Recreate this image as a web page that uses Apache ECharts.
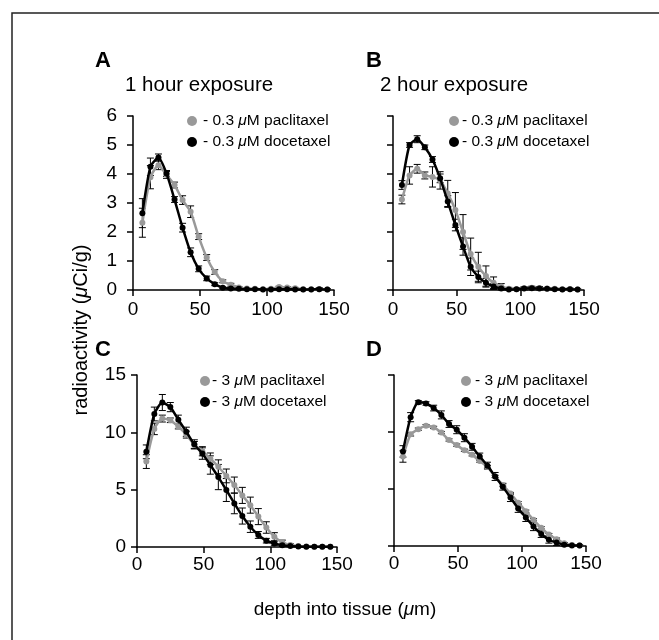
<!DOCTYPE html>
<html>
<head>
<meta charset="utf-8">
<script src="https://cdn.jsdelivr.net/npm/echarts@6/dist/echarts.min.js"></script>
<style>
  html, body { margin: 0; padding: 0; background: #fff; }
  #chart { width: 659px; height: 640px; }
</style>
</head>
<body>
<div id="chart"></div>
<script>
// depth into tissue (um), same sampling for every panel
var depth = [7, 13, 19, 25, 31, 37, 43, 49, 55, 61, 67, 73, 79, 85, 91, 97, 103, 109, 115, 121, 127, 133, 139, 145];

// A: 1 hour, 0.3 uM
var pac1h03 = [2.32, 3.89, 4.3, 3.97, 3.62, 3.1, 2.7, 1.84, 1.12, 0.62, 0.3, 0.18, 0.09, 0.05, 0.04, 0.03, 0.04, 0.1, 0.09, 0.06, 0.03, 0.03, 0.03, 0.02];
var pac1h03Err = [0.5, 0.4, 0.15, 0.12, 0.1, 0.15, 0.2, 0.1, 0.1, 0.08, 0.05, 0.05, 0.03, 0.02, 0.02, 0.02, 0.02, 0.03, 0.03, 0.03, 0.02, 0.02, 0.02, 0.02];
var doc1h03 = [2.65, 4.25, 4.57, 4.02, 3.12, 2.15, 1.3, 0.73, 0.4, 0.2, 0.08, 0.05, 0.04, 0.03, 0.03, 0.02, 0.02, 0.03, 0.03, 0.02, 0.02, 0.02, 0.03, 0.02];
var doc1h03Err = [0.5, 0.3, 0.12, 0.1, 0.1, 0.15, 0.15, 0.1, 0.08, 0.05, 0.03, 0.03, 0.03, 0.02, 0.02, 0.02, 0.02, 0.03, 0.05, 0.03, 0.02, 0.02, 0.05, 0.02];

// B: 2 hour, 0.3 uM
var pac2h03 = [3.12, 3.95, 4.18, 3.95, 3.9, 3.78, 3.33, 2.76, 2.0, 1.24, 0.8, 0.48, 0.25, 0.12, 0.04, 0.03, 0.06, 0.08, 0.07, 0.05, 0.04, 0.03, 0.03, 0.02];
var pac2h03Err = [0.15, 0.3, 0.15, 0.12, 0.35, 0.3, 0.45, 0.6, 0.6, 0.55, 0.5, 0.35, 0.2, 0.1, 0.05, 0.03, 0.05, 0.05, 0.05, 0.03, 0.03, 0.03, 0.03, 0.02];
var doc2h03 = [3.62, 5.0, 5.2, 4.92, 4.5, 3.85, 3.05, 2.24, 1.5, 0.8, 0.45, 0.25, 0.12, 0.05, 0.02, 0.03, 0.05, 0.06, 0.05, 0.04, 0.03, 0.02, 0.03, 0.02];
var doc2h03Err = [0.15, 0.08, 0.12, 0.08, 0.1, 0.15, 0.2, 0.2, 0.3, 0.3, 0.2, 0.15, 0.1, 0.05, 0.03, 0.03, 0.05, 0.05, 0.05, 0.03, 0.03, 0.03, 0.03, 0.02];

// C: 1 hour, 3 uM
var pac1h3 = [7.45, 10.3, 11.2, 11.05, 10.5, 9.8, 8.9, 8.35, 7.7, 7.0, 6.2, 5.4, 4.5, 3.65, 2.65, 1.7, 0.9, 0.4, 0.18, 0.08, 0.05, 0.03, 0.02, 0.02];
var pac1h3Err = [0.6, 0.5, 0.3, 0.2, 0.2, 0.3, 0.3, 0.4, 0.5, 0.6, 0.6, 0.7, 0.7, 0.7, 0.7, 0.5, 0.35, 0.2, 0.1, 0.05, 0.03, 0.02, 0.02, 0.02];
var doc1h3 = [8.3, 11.6, 12.6, 12.2, 11.1, 10.05, 8.95, 8.15, 7.15, 6.1, 4.97, 3.8, 2.7, 1.77, 1.05, 0.55, 0.3, 0.15, 0.08, 0.05, 0.03, 0.03, 0.02, 0.02];
var doc1h3Err = [0.6, 0.6, 0.7, 0.4, 0.4, 0.4, 0.4, 0.5, 0.8, 1.1, 1.0, 0.9, 0.7, 0.5, 0.3, 0.2, 0.15, 0.1, 0.05, 0.03, 0.03, 0.02, 0.02, 0.02];

// D: 2 hour, 3 uM
var pac2h3 = [7.85, 9.8, 10.25, 10.55, 10.4, 9.95, 9.3, 8.85, 8.4, 8.0, 7.45, 6.95, 6.1, 5.35, 4.6, 3.8, 3.05, 2.3, 1.6, 1.0, 0.6, 0.25, 0.08, 0.05];
var pac2h3Err = [0.5, 0.15, 0.1, 0.1, 0.1, 0.1, 0.1, 0.1, 0.1, 0.1, 0.1, 0.1, 0.1, 0.1, 0.1, 0.1, 0.1, 0.1, 0.1, 0.1, 0.1, 0.05, 0.05, 0.05];
var doc2h3 = [8.3, 11.3, 12.6, 12.5, 12.1, 11.5, 10.7, 10.2, 9.5, 8.7, 7.85, 7.05, 6.1, 5.2, 4.25, 3.3, 2.5, 1.7, 1.05, 0.55, 0.3, 0.12, 0.05, 0.05];
var doc2h3Err = [0.5, 0.4, 0.15, 0.15, 0.25, 0.35, 0.3, 0.35, 0.35, 0.3, 0.3, 0.3, 0.35, 0.3, 0.35, 0.35, 0.35, 0.35, 0.3, 0.3, 0.25, 0.15, 0.08, 0.05];

var panelLetters = ['A', 'B', 'C', 'D'];
var exposureTitles = ['1 hour exposure', '2 hour exposure'];
var xTicks = { min: 0, max: 150, interval: 50 };

var GRAY = '#999999';
var BLACK = '#000000';
var FONT = 'Liberation Sans, Arial, Helvetica, sans-serif';
var TICK_FONT = 19;

var grids = [
    { left: 133, top: 116, width: 201, height: 174 },
    { left: 393, top: 116, width: 191, height: 174 },
    { left: 137, top: 375, width: 200, height: 172 },
    { left: 394, top: 375, width: 192, height: 171 }
];

function xAxisFor(i, margin) {
    return {
        type: 'value', gridIndex: i, min: xTicks.min, max: xTicks.max, interval: xTicks.interval,
        axisLine: { onZero: false, lineStyle: { color: '#000', width: 1.5 } },
        axisTick: { inside: false, length: 6, lineStyle: { color: '#000', width: 1.5 } },
        axisLabel: { color: '#000', fontSize: TICK_FONT, fontFamily: FONT, margin: margin },
        splitLine: { show: false }
    };
}

function yAxisFor(i, max, interval, showLabels, margin) {
    return {
        type: 'value', gridIndex: i, min: 0, max: max, interval: interval,
        axisLine: { show: true, onZero: false, lineStyle: { color: '#000', width: 1.5 } },
        axisTick: { show: true, inside: false, length: 6, lineStyle: { color: '#000', width: 1.5 } },
        axisLabel: { show: showLabels, color: '#000', fontSize: TICK_FONT, fontFamily: FONT, margin: margin },
        splitLine: { show: false }
    };
}

function lineSeries(name, idx, vals, color, z) {
    return {
        name: name, type: 'line', xAxisIndex: idx, yAxisIndex: idx,
        data: depth.map(function(d, k) { return [d, vals[k]]; }),
        symbol: 'circle', symbolSize: 6, showSymbol: true,
        smooth: 0.2,
        itemStyle: { color: color },
        lineStyle: { color: color, width: 2.5 },
        z: z, silent: true, animation: false
    };
}

function errSeries(idx, vals, errs, z) {
    return {
        type: 'custom', xAxisIndex: idx, yAxisIndex: idx,
        data: depth.map(function(d, k) { return [d, vals[k] - errs[k], vals[k] + errs[k]]; }),
        encode: { x: 0, y: [1, 2] },
        renderItem: function(params, api) {
            var lo = api.coord([api.value(0), Math.max(0, api.value(1))]);
            var hi = api.coord([api.value(0), api.value(2)]);
            var w = 3.5;
            var st = { stroke: '#000', lineWidth: 1 };
            return {
                type: 'group',
                children: [
                    { type: 'line', shape: { x1: lo[0], y1: lo[1], x2: hi[0], y2: hi[1] }, style: st },
                    { type: 'line', shape: { x1: lo[0] - w, y1: lo[1], x2: lo[0] + w, y2: lo[1] }, style: st },
                    { type: 'line', shape: { x1: hi[0] - w, y1: hi[1], x2: hi[0] + w, y2: hi[1] }, style: st }
                ]
            };
        },
        z: z, silent: true, animation: false
    };
}

var legendRich = {
    t: { fontSize: 15.5, fontFamily: FONT, color: '#000' },
    i: { fontSize: 15.5, fontFamily: FONT, color: '#000', fontStyle: 'italic' }
};
var legendText = {
    pac03: '{t|- 0.3 }{i|\u03bc}{t|M paclitaxel}',
    doc03: '{t|- 0.3 }{i|\u03bc}{t|M docetaxel}',
    pac3: '{t|- 3 }{i|\u03bc}{t|M paclitaxel}',
    doc3: '{t|- 3 }{i|\u03bc}{t|M docetaxel}'
};
function legendFor(left, top, names, gap) {
    return {
        left: left, top: top, orient: 'vertical', icon: 'circle',
        itemWidth: 10, itemHeight: 10, itemGap: 5, selectedMode: false,
        data: names,
        formatter: function(n) { return legendText[n]; },
        textStyle: { rich: legendRich, padding: [0, 0, 0, gap] }
    };
}

var letterStyle = { fontSize: 22, fontWeight: 'bold', fontFamily: FONT, color: '#000' };
var headStyle = { fontSize: 20.5, fontWeight: 'normal', fontFamily: FONT, color: '#000' };
function labelRich(size) {
    return {
        t: { fontSize: size, fontFamily: FONT, fill: '#000' },
        i: { fontSize: size, fontFamily: FONT, fill: '#000', fontStyle: 'italic' }
    };
}

var option = {
    backgroundColor: '#fff',
    animation: false,
    grid: grids,
    xAxis: [xAxisFor(0, 10), xAxisFor(1, 10), xAxisFor(2, 8), xAxisFor(3, 8)],
    yAxis: [yAxisFor(0, 6, 1, true, 16), yAxisFor(1, 6, 1, false, 16), yAxisFor(2, 15, 5, true, 11), yAxisFor(3, 15, 5, false, 11)],
    legend: [
        legendFor(182, 108, ['pac03', 'doc03'], 1),
        legendFor(444, 108, ['pac03', 'doc03'], -2),
        legendFor(195, 368, ['pac3', 'doc3'], -3),
        legendFor(456, 368, ['pac3', 'doc3'], -1)
    ],
    title: [
        { text: panelLetters[0], left: 95, top: 50, textStyle: letterStyle, padding: 0 },
        { text: panelLetters[1], left: 366, top: 50, textStyle: letterStyle, padding: 0 },
        { text: panelLetters[2], left: 95, top: 339, textStyle: letterStyle, padding: 0 },
        { text: panelLetters[3], left: 366, top: 339, textStyle: letterStyle, padding: 0 },
        { text: exposureTitles[0], left: 125, top: 75, textStyle: headStyle, padding: 0 },
        { text: exposureTitles[1], left: 380, top: 75, textStyle: headStyle, padding: 0 }
    ],
    graphic: [
        { type: 'rect', shape: { x: 12, y: 13, width: 800, height: 800 }, style: { fill: 'none', stroke: '#222', lineWidth: 1.5 }, silent: true, z: -1 },
        {
            type: 'text', x: 81, y: 330, rotation: Math.PI / 2,
            style: { text: '{t|radioactivity (}{i|\u03bc}{t|Ci/g)}', align: 'center', verticalAlign: 'middle', rich: labelRich(20) }
        },
        {
            type: 'text', x: 345, y: 610,
            style: { text: '{t|depth into tissue (}{i|\u03bc}{t|m)}', align: 'center', verticalAlign: 'middle', rich: labelRich(19) }
        }
    ],
    series: [
        errSeries(0, pac1h03, pac1h03Err, 3), errSeries(0, doc1h03, doc1h03Err, 3),
        lineSeries('pac03', 0, pac1h03, GRAY, 4), lineSeries('doc03', 0, doc1h03, BLACK, 5),

        errSeries(1, pac2h03, pac2h03Err, 3), errSeries(1, doc2h03, doc2h03Err, 3),
        lineSeries('pac03', 1, pac2h03, GRAY, 4), lineSeries('doc03', 1, doc2h03, BLACK, 5),

        errSeries(2, pac1h3, pac1h3Err, 3), errSeries(2, doc1h3, doc1h3Err, 3),
        lineSeries('pac3', 2, pac1h3, GRAY, 4), lineSeries('doc3', 2, doc1h3, BLACK, 5),

        errSeries(3, pac2h3, pac2h3Err, 3), errSeries(3, doc2h3, doc2h3Err, 3),
        lineSeries('pac3', 3, pac2h3, GRAY, 4), lineSeries('doc3', 3, doc2h3, BLACK, 5)
    ]
};

var myChart = echarts.init(document.getElementById('chart'), null, { renderer: 'canvas' });
myChart.setOption(option);
</script>
</body>
</html>
